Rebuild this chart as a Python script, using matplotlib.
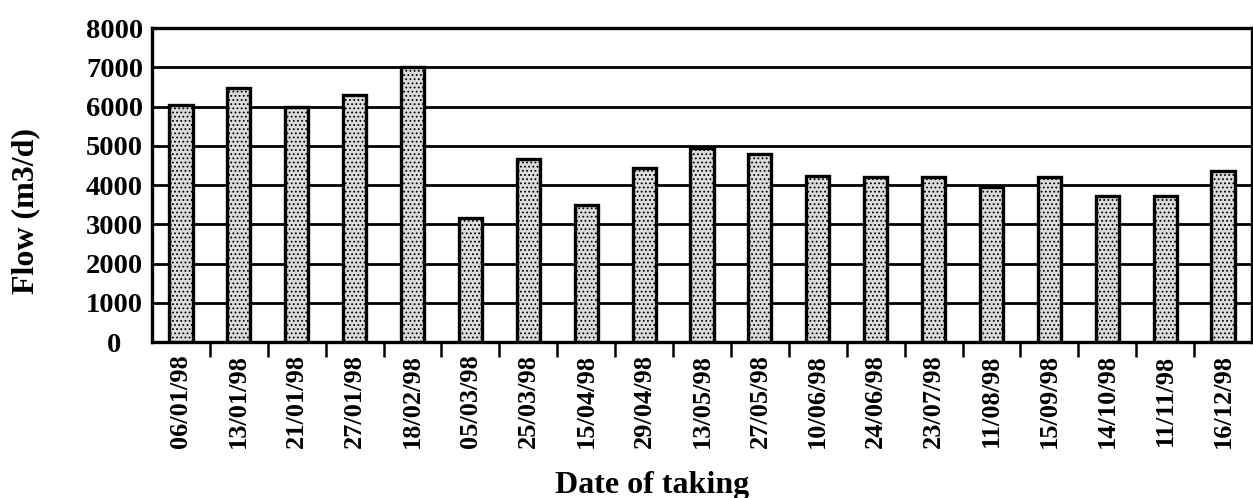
import numpy as np
import matplotlib
matplotlib.use("Agg")
import matplotlib.pyplot as plt

# sampling dates and measured flow
dates = ["06/01/98", "13/01/98", "21/01/98", "27/01/98", "18/02/98",
         "05/03/98", "25/03/98", "15/04/98", "29/04/98", "13/05/98",
         "27/05/98", "10/06/98", "24/06/98", "23/07/98", "11/08/98",
         "15/09/98", "14/10/98", "11/11/98", "16/12/98"]
flow = [6050, 6480, 6000, 6300, 7000,
        3170, 4650, 3500, 4430, 4950,
        4780, 4220, 4200, 4200, 3950,
        4200, 3720, 3720, 4350]
yticks = [0, 1000, 2000, 3000, 4000, 5000, 6000, 7000, 8000]

plt.rcParams['font.family'] = ['Liberation Serif', 'DejaVu Serif']
plt.rcParams['font.weight'] = 'bold'
plt.rcParams['hatch.color'] = '#3a3a3a'
plt.rcParams['hatch.linewidth'] = 0.8

fig = plt.figure(figsize=(12.53, 4.98), dpi=100)
ax = fig.add_axes([152/1253, 1 - 342/498, 1100/1253, 314/498])

x = np.arange(len(dates))
ax.bar(x, flow, width=0.40, color='#dcdcdc', edgecolor='black',
       linewidth=2.4, hatch='....', zorder=3)

ax.set_xlim(-0.5, len(dates) - 0.5)
ax.set_ylim(0, 8000)
ax.set_yticks(yticks)
ax.set_yticklabels([str(v) for v in yticks], fontsize=20.5, fontweight='bold',
                   ha='center')
ax.tick_params(axis='y', length=0, pad=27)
ax.yaxis.grid(True, color='black', linewidth=2.0, zorder=0)
ax.set_axisbelow(True)

ax.set_xticks(x)
ax.set_xticklabels(dates, rotation=90, fontsize=19, fontweight='bold')
ax.tick_params(axis='x', which='major', length=0, pad=9)
ax.set_xticks(np.arange(0.5, len(dates) - 1), minor=True)
ax.tick_params(axis='x', which='minor', length=11, width=1.8,
               direction='out', color='black')

for s in ax.spines.values():
    s.set_linewidth(2.4)
    s.set_color('black')

fig.text(26/1253, 1 - 211/498, "Flow (m3/d)", rotation=90, fontsize=23,
         fontweight='bold', ha='center', va='center')
fig.text(652/1253, 1 - 493/498, "Date of taking", fontsize=23,
         fontweight='bold', ha='center', va='baseline')

fig.savefig("out.png", dpi=100)
